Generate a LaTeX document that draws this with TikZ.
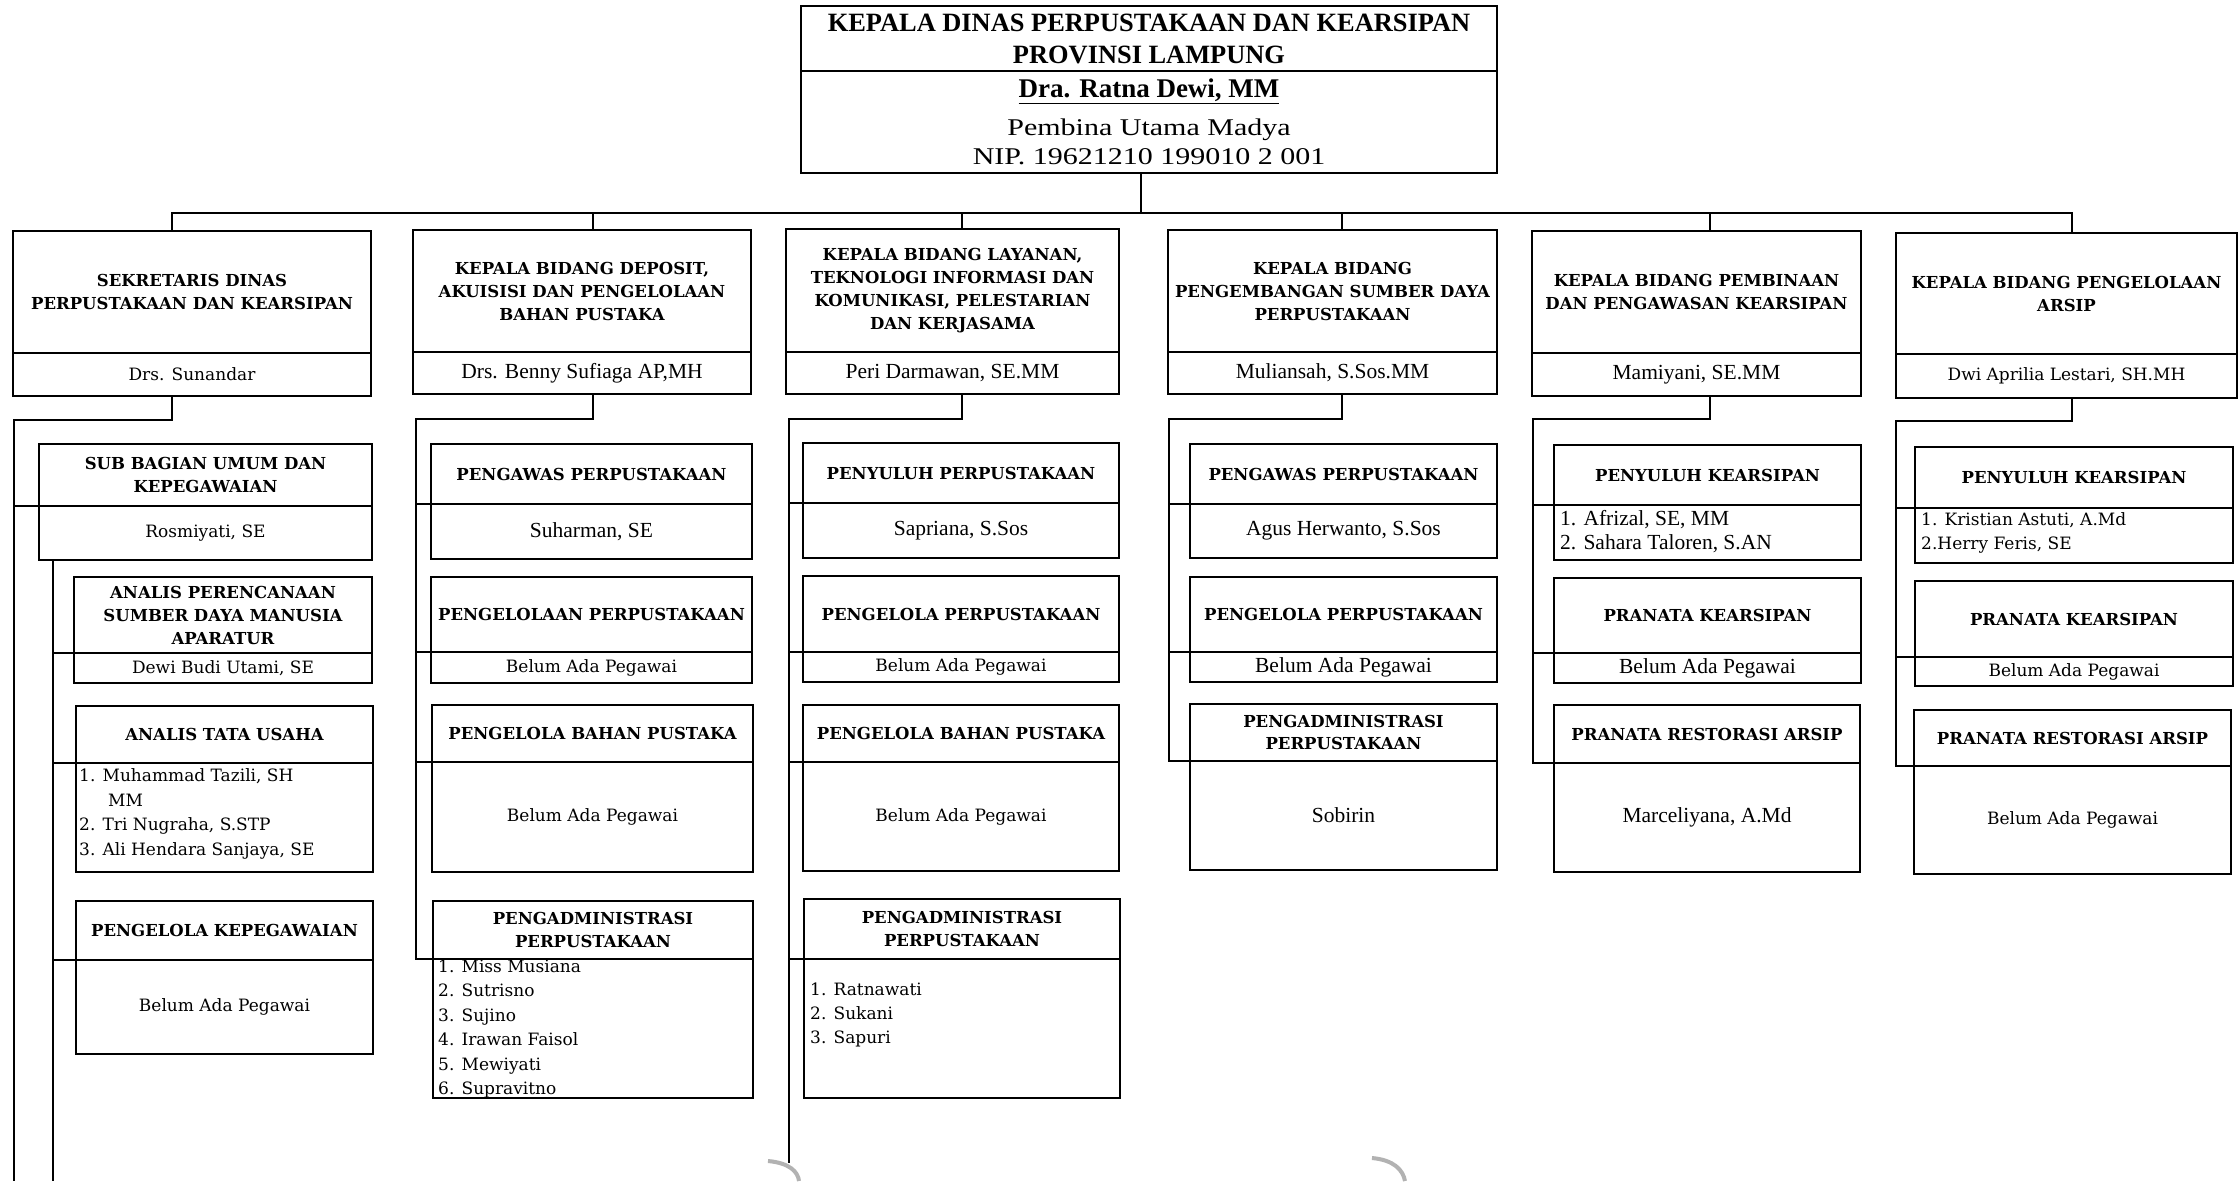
\documentclass[tikz,border=0pt]{standalone}
\usepackage{fontspec}
\setmainfont{DejaVu Serif}
\newfontfamily\tms{Liberation Serif}
\newfontfamily\tmsw[FakeStretch=1.25]{Liberation Serif}
\tikzset{
  sec/.style={draw, line width=2pt, outer sep=0pt, inner sep=1pt, anchor=north west, align=center},
  ln/.style={line width=2pt},
  hdf/.style={font=\fontsize{16.5}{23}\selectfont\bfseries},
  bkf/.style={font=\fontsize{17}{23}\selectfont},
  tmf/.style={font=\tms\fontsize{21.5}{24}\selectfont},
  lst/.style={anchor=west, align=left, inner sep=0pt},
  curl/.style={gray!60, line width=4pt},
}
% #1 name, #2 x1, #3 x2, #4 ytop, #5 ydivider, #6 ybottom, #7 heading, #8 body style, #9 body
\newcommand\obox[9]{%
  \node[sec,hdf,minimum width={#3-#2},minimum height={#5-#4}] (#1) at (#2,#4) {#7};
  \node[sec,#8,minimum width={#3-#2},minimum height={#6-#5}] (#1n) at (#2,#5) {#9};}
\begin{document}
\begin{tikzpicture}[x=1pt,y=-1pt]
\fill[white] (0,0) rectangle (2240,1181);
\useasboundingbox (0,0) rectangle (2240,1181);

% main box
\node[sec, minimum width=696, minimum height=65, font=\tms\bfseries\fontsize{26.4}{32}\selectfont] (kd) at (801,6)
  {KEPALA DINAS PERPUSTAKAAN DAN KEARSIPAN\\PROVINSI LAMPUNG};
\node[sec, minimum width=696, minimum height=102, font=\tmsw\fontsize{24}{29}\selectfont] (kdn) at (801,71)
  {{\tms\bfseries\fontsize{27}{29}\selectfont\underline{Dra. Ratna Dewi, MM}}\\[9pt]Pembina Utama Madya\\NIP. 19621210 199010 2 001};

% column 1
\obox{sek}{13}{371}{231}{353}{396}{SEKRETARIS DINAS\\PERPUSTAKAAN DAN KEARSIPAN}{bkf}{Drs. Sunandar}
\obox{sub}{39}{372}{444}{506}{560}{SUB BAGIAN UMUM DAN\\KEPEGAWAIAN}{bkf}{Rosmiyati, SE}
\obox{aps}{74}{372}{577}{653}{683}{ANALIS PERENCANAAN\\SUMBER DAYA MANUSIA\\APARATUR}{bkf}{Dewi Budi Utami, SE}
\obox{atu}{76}{373}{706}{763}{872}{ANALIS TATA USAHA}{bkf}{}
\obox{pkp}{76}{373}{901}{960}{1054}{PENGELOLA KEPEGAWAIAN}{bkf}{Belum Ada Pegawai}
\node[lst, font=\fontsize{17}{24.5}\selectfont] (atul) at (79,814)
  {1. Muhammad Tazili, SH\\\hspace*{29pt}MM\\2. Tri Nugraha, S.STP\\3. Ali Hendara Sanjaya, SE};

% column 2
\obox{dep}{413}{751}{230}{352}{394}{KEPALA BIDANG DEPOSIT,\\AKUISISI DAN PENGELOLAAN\\BAHAN PUSTAKA}{tmf}{Drs. Benny Sufiaga AP,MH}
\obox{pwp2}{431}{752}{444}{504}{559}{PENGAWAS PERPUSTAKAAN}{tmf}{Suharman, SE}
\obox{pnp2}{431}{752}{577}{652}{683}{PENGELOLAAN PERPUSTAKAAN}{bkf}{Belum Ada Pegawai}
\obox{pbp2}{432}{753}{705}{762}{872}{PENGELOLA BAHAN PUSTAKA}{bkf}{Belum Ada Pegawai}
\obox{pad2}{433}{753}{901}{959}{1098}{PENGADMINISTRASI\\PERPUSTAKAAN}{bkf}{}
\node[lst, font=\fontsize{17}{24.4}\selectfont] (pad2l) at (438,1029)
  {1. Miss Musiana\\2. Sutrisno\\3. Sujino\\4. Irawan Faisol\\5. Mewiyati\\6. Supravitno};

% column 3
\obox{lay}{786}{1119}{229}{352}{394}{KEPALA BIDANG LAYANAN,\\TEKNOLOGI INFORMASI DAN\\KOMUNIKASI, PELESTARIAN\\DAN KERJASAMA}{tmf}{Peri Darmawan, SE.MM}
\obox{pyp3}{803}{1119}{443}{503}{558}{PENYULUH PERPUSTAKAAN}{tmf}{Sapriana, S.Sos}
\obox{pnp3}{803}{1119}{576}{652}{682}{PENGELOLA PERPUSTAKAAN}{bkf}{Belum Ada Pegawai}
\obox{pbp3}{803}{1119}{705}{762}{871}{PENGELOLA BAHAN PUSTAKA}{bkf}{Belum Ada Pegawai}
\obox{pad3}{804}{1120}{899}{959}{1098}{PENGADMINISTRASI\\PERPUSTAKAAN}{bkf}{}
\node[lst, font=\fontsize{17}{24}\selectfont] (pad3l) at (810,1015)
  {1. Ratnawati\\2. Sukani\\3. Sapuri};

% column 4
\obox{pgm}{1168}{1497}{230}{352}{394}{KEPALA BIDANG\\PENGEMBANGAN SUMBER DAYA\\PERPUSTAKAAN}{tmf}{Muliansah, S.Sos.MM}
\obox{pwp4}{1190}{1497}{444}{504}{558}{PENGAWAS PERPUSTAKAAN}{tmf}{Agus Herwanto, S.Sos}
\obox{pnp4}{1190}{1497}{577}{652}{682}{PENGELOLA PERPUSTAKAAN}{tmf}{Belum Ada Pegawai}
\obox{pad4}{1190}{1497}{704}{761}{870}{PENGADMINISTRASI\\[-1pt]PERPUSTAKAAN}{tmf}{Sobirin}

% column 5
\obox{pbn}{1532}{1861}{231}{353}{396}{KEPALA BIDANG PEMBINAAN\\DAN PENGAWASAN KEARSIPAN}{tmf}{Mamiyani, SE.MM}
\obox{pyk5}{1554}{1861}{445}{505}{560}{PENYULUH KEARSIPAN}{tmf}{}
\obox{prk5}{1554}{1861}{578}{653}{683}{PRANATA KEARSIPAN}{tmf}{Belum Ada Pegawai}
\obox{prr5}{1554}{1860}{705}{763}{872}{PRANATA RESTORASI ARSIP}{tmf}{Marceliyana, A.Md}
\node[lst, font=\tms\fontsize{21.5}{24}\selectfont] (pyk5l) at (1560,532)
  {1. Afrizal, SE, MM\\2. Sahara Taloren, S.AN};

% column 6
\obox{ars}{1896}{2237}{233}{354}{398}{KEPALA BIDANG PENGELOLAAN\\ARSIP}{bkf}{Dwi Aprilia Lestari, SH.MH}
\obox{pyk6}{1915}{2233}{447}{508}{563}{PENYULUH KEARSIPAN}{bkf}{}
\obox{prk6}{1915}{2233}{581}{657}{686}{PRANATA KEARSIPAN}{bkf}{Belum Ada Pegawai}
\obox{prr6}{1914}{2231}{710}{766}{874}{PRANATA RESTORASI ARSIP}{bkf}{Belum Ada Pegawai}
\node[lst, font=\fontsize{17}{24}\selectfont] (pyk6l) at (1921,533)
  {1. Kristian Astuti, A.Md\\2.Herry Feris, SE};

% bus and heads
\coordinate (m) at (1141,213);
\coordinate (c1) at (172,213);
\coordinate (c2) at (593,213);
\coordinate (c3) at (962,213);
\coordinate (c4) at (1342,213);
\coordinate (c5) at (1710,213);
\coordinate (c6) at (2072,213);
\draw[ln] (m |- kdn.south) -- (m);
\draw[ln] (c1 |- sek.north) -- (c1) -- (c6) -- (c6 |- ars.north);
\draw[ln] (c2) -- (c2 |- dep.north);
\draw[ln] (c3) -- (c3 |- lay.north);
\draw[ln] (c4) -- (c4 |- pgm.north);
\draw[ln] (c5) -- (c5 |- pbn.north);

% column trunks
\coordinate (t1) at (14,420);
\coordinate (b1) at (14,1181);
\draw[ln] (c1 |- sekn.south) |- (t1) -- (b1);
\draw[ln] (t1 |- sub.south west) -- (sub.south west);
\coordinate (t1b) at (53,1181);
\draw[ln] (t1b |- subn.south) -- (t1b);
\foreach \b in {aps,atu,pkp} \draw[ln] (t1b |- \b.south west) -- (\b.south west);

\coordinate (t2) at (416,419);
\draw[ln] (c2 |- depn.south) |- (t2) |- (pad2.south west);
\foreach \b in {pwp2,pnp2,pbp2} \draw[ln] (t2 |- \b.south west) -- (\b.south west);

\coordinate (t3) at (789,419);
\coordinate (b3) at (789,1163);
\draw[ln] (c3 |- layn.south) |- (t3) -- (b3);
\foreach \b in {pyp3,pnp3,pbp3,pad3} \draw[ln] (t3 |- \b.south west) -- (\b.south west);

\coordinate (t4) at (1169,419);
\draw[ln] (c4 |- pgmn.south) |- (t4) |- (pad4.south west);
\foreach \b in {pwp4,pnp4} \draw[ln] (t4 |- \b.south west) -- (\b.south west);

\coordinate (t5) at (1533,419);
\draw[ln] (c5 |- pbnn.south) |- (t5) |- (prr5.south west);
\foreach \b in {pyk5,prk5} \draw[ln] (t5 |- \b.south west) -- (\b.south west);

\coordinate (t6) at (1896,421);
\draw[ln] (c6 |- arsn.south) |- (t6) |- (prr6.south west);
\foreach \b in {pyk6,prk6} \draw[ln] (t6 |- \b.south west) -- (\b.south west);

% page curl marks at the bottom
\draw[curl] (768,1161) .. controls (790,1163) and (798,1172) .. (799,1181);
\draw[curl] (1372,1158) .. controls (1394,1160) and (1403,1170) .. (1405,1181);
\end{tikzpicture}
\end{document}
